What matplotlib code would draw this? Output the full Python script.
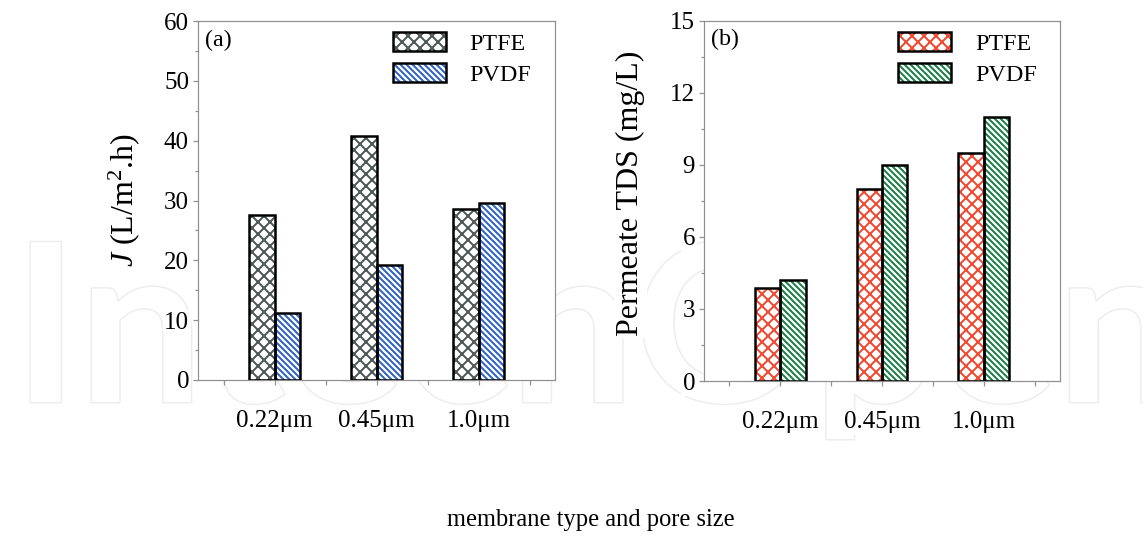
import matplotlib
matplotlib.use("Agg")
import matplotlib.pyplot as plt
import matplotlib.patheffects as pe
from matplotlib.patches import Patch
from matplotlib.legend_handler import HandlerTuple
from matplotlib.ticker import FixedLocator, MultipleLocator
import numpy as np

# ---- data -------------------------------------------------------------
categories = ["0.22μm", "0.45μm", "1.0μm"]
series_names = ["PTFE", "PVDF"]

flux_ptfe = [27.6, 40.7, 28.5]      # J, L/m2.h
flux_pvdf = [11.2, 19.3, 29.6]

tds_ptfe = [3.85, 8.0, 9.5]          # permeate TDS, mg/L
tds_pvdf = [4.2, 9.0, 11.0]

# ---- style ------------------------------------------------------------
plt.rcParams.update({
    "font.family": "Liberation Serif",
    "mathtext.fontset": "custom",
    "mathtext.rm": "Liberation Serif",
    "mathtext.it": "Liberation Serif:italic",
    "hatch.linewidth": 2.0,
})

SPINE = "#8f8f8f"
WHITE_BOX = dict(facecolor="white", edgecolor="none", pad=1.5)
DPI = 72
W, H = 1143, 538
fig = plt.figure(figsize=(W / DPI, H / DPI), dpi=DPI)
fig.patch.set_facecolor("white")

# faint publisher mark behind the panels
fig.text(13 / W, 1 - 402 / H, "IntechOpen", fontsize=221, family="Lato",
         weight="bold", color="white", ha="left", va="baseline", zorder=-5,
         path_effects=[pe.Stroke(linewidth=3, foreground="#ededed"), pe.Normal()])


def panel(ax, ptfe, pvdf, colors, ymax, major, minor, ylabel, tag,
          label_x, label_y):
    x = np.arange(1, len(categories) + 1)
    width = 0.25
    hatches = ["xx", "\\\\\\\\"]
    handles = []
    for vals, off, col, hat in zip([ptfe, pvdf], [-width / 2, width / 2],
                                   colors, hatches):
        ax.bar(x + off, vals, width, facecolor="white", edgecolor=col,
               linewidth=0, hatch=hat, zorder=2)
        ax.bar(x + off, vals, width, facecolor="none", edgecolor="black",
               linewidth=2.5, zorder=3)
        handles.append((Patch(facecolor="white", edgecolor=col, hatch=hat, linewidth=0),
                        Patch(facecolor="none", edgecolor="black", linewidth=2.5)))

    ax.set_xlim(0.25, 3.75)
    ax.set_ylim(0, ymax)
    ax.xaxis.set_major_locator(FixedLocator(x))
    ax.xaxis.set_minor_locator(FixedLocator(np.arange(0.5, 4.0, 1.0)))
    ax.set_xticklabels(categories)
    ax.yaxis.set_major_locator(MultipleLocator(major))
    ax.yaxis.set_minor_locator(MultipleLocator(minor))

    for s in ax.spines.values():
        s.set_color(SPINE)
        s.set_linewidth(1.2)
    ax.tick_params(which="both", direction="out", color=SPINE, width=1.2,
                   labelsize=25, top=False, right=False)
    ax.tick_params(axis="y", which="major", length=5, pad=4)
    ax.tick_params(axis="y", which="minor", length=3)
    ax.tick_params(axis="x", which="both", length=5, pad=25)
    for lab in ax.get_xticklabels() + ax.get_yticklabels():
        lab.set_bbox(WHITE_BOX)

    ax.text(label_x, label_y, ylabel, transform=ax.transAxes, rotation=90,
            rotation_mode="anchor", ha="center", va="baseline", fontsize=32,
            bbox=WHITE_BOX)
    ax.text(0.02, 0.947, tag, transform=ax.transAxes, ha="left", va="center",
            fontsize=24)

    ax.legend(handles, series_names, handler_map={tuple: HandlerTuple(ndivide=1)},
              loc="upper left", bbox_to_anchor=(0.546, 0.969), frameon=False,
              fontsize=24, handlelength=2.2, handleheight=0.85,
              handletextpad=1.0, labelspacing=0.34, borderpad=0,
              borderaxespad=0)


ax_a = fig.add_axes([198 / W, 1 - 380 / H, 357 / W, 359 / H])
ax_b = fig.add_axes([704 / W, 1 - 381 / H, 356 / W, 360.5 / H])

panel(ax_a, flux_ptfe, flux_pvdf, ["#4f5757", "#2f62c8"], 60, 10, 5,
      r"$J$ (L/m$^{2}$.h)", "(a)", -0.182, 0.5)
panel(ax_b, tds_ptfe, tds_pvdf, ["#f04a30", "#1c7f48"], 15, 3, 1.5,
      "Permeate TDS (mg/L)", "(b)", -0.185, 0.52)

fig.text(591 / W, 1 - 520 / H, "membrane type and pore size", ha="center",
         va="center", fontsize=24.5, bbox=WHITE_BOX)

fig.savefig("out.png", dpi=DPI, facecolor="white")
